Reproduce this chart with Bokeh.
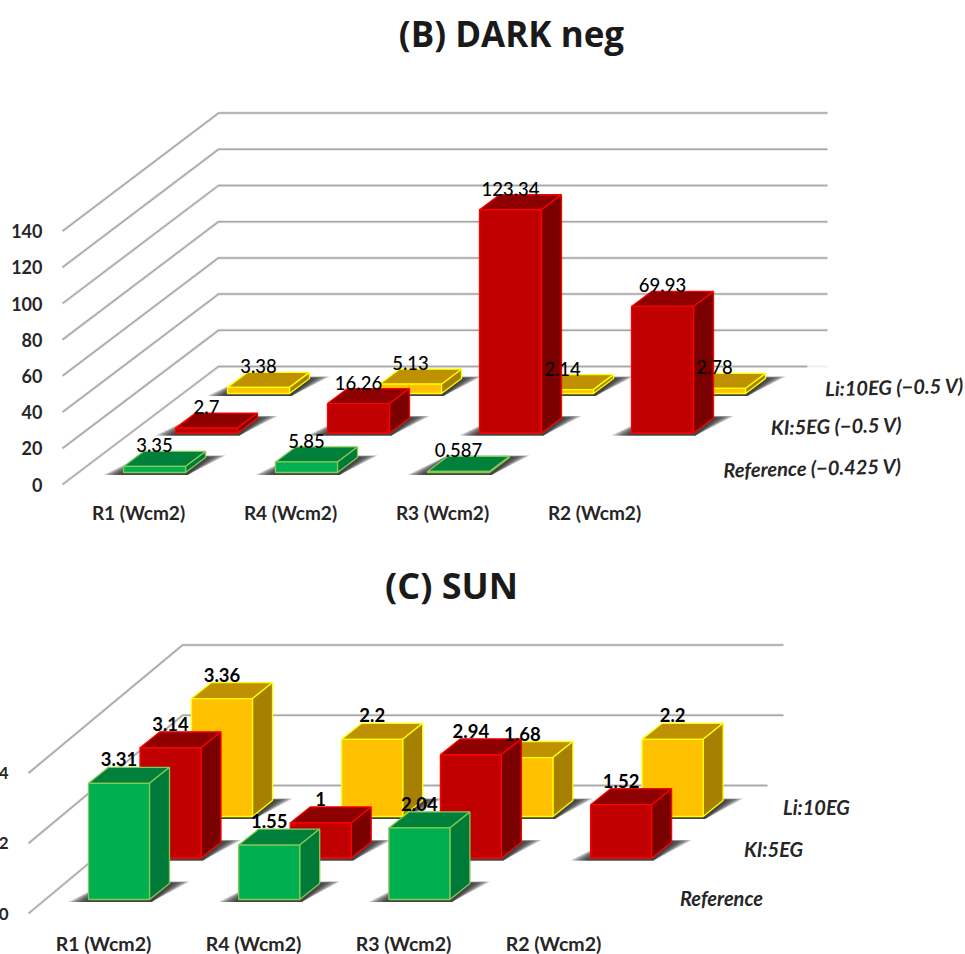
from bokeh.embed import file_html
from bokeh.layouts import column
from bokeh.models import ColumnDataSource, FixedTicker, Range1d
from bokeh.plotting import figure
from bokeh.resources import INLINE

CATEGORIES = ["R1 (Wcm2)", "R4 (Wcm2)", "R3 (Wcm2)", "R2 (Wcm2)"]

# Panel B: dark, negative bias
DARK_REFERENCE = [3.35, 5.85, 0.587, None]
DARK_KI = [2.7, 16.26, 123.34, 69.93]
DARK_LI = [3.38, 5.13, 2.14, 2.78]
DARK_LABELS = ["Reference (\u22120.425 V)", "KI:5EG (\u22120.5 V)", "Li:10EG (\u22120.5 V)"]
DARK_TICKS = [0, 20, 40, 60, 80, 100, 120, 140]

# Panel C: sun
SUN_REFERENCE = [3.31, 1.55, 2.04, None]
SUN_KI = [3.14, 1, 2.94, 1.52]
SUN_LI = [3.36, 2.2, 1.68, 2.2]
SUN_LABELS = ["Reference", "KI:5EG", "Li:10EG"]
SUN_TICKS = [0, 2, 4]

FONT = "Lato"
TITLE_FONT = "Open Sans"

# The page is pulled left so the bottom tick labels sit on the window edge
PAGE_SHIFT = 5
BORDER = 21
FRAME_LEFT = BORDER - PAGE_SHIFT

# front, side, top, edge for each depth row, front row first
PALETTE = [
    ("#00B050", "#007A38", "#00803A", "#85C955"),
    ("#C00000", "#7A0000", "#8C0000", "#FF0000"),
    ("#FFC000", "#A68000", "#BF9000", "#FFFF00"),
]


def draw_panel(height, series, series_labels, ticks, g):
    s = g["scale"]
    y_low = (g["zero_py"] - height) / s
    y_high = g["zero_py"] / s
    p = figure(
        width=965 + PAGE_SHIFT, height=height, output_backend="svg", toolbar_location=None,
        x_range=Range1d(FRAME_LEFT, 965), y_range=Range1d(y_low, y_high),
        min_border_left=BORDER, min_border_right=0,
        min_border_top=0, min_border_bottom=0, outline_line_color=None,
        x_axis_location=None, y_axis_location="left",
    )
    p.xgrid.visible = False
    p.ygrid.visible = False
    p.background_fill_color = "white"
    p.border_fill_color = "white"

    axis = p.yaxis[0]
    axis.ticker = FixedTicker(ticks=ticks)
    axis.axis_line_color = None
    axis.major_tick_line_color = None
    axis.minor_tick_line_color = None
    axis.major_tick_in = 0
    axis.major_tick_out = 0
    axis.major_label_standoff = g["standoff"]
    axis.major_label_text_font = FONT
    axis.major_label_text_font_style = "bold"
    axis.major_label_text_font_size = g["tick_size"]
    axis.major_label_text_color = "#262626"

    # Wall and floor rules
    lift = g["wall_lift"] / s
    xs, ys = [], []
    for t in ticks:
        right = g["floor_right"] if t == 0 else g["wall_right"]
        xs.append([g["wall_left"], g["wall_back"], right])
        ys.append([t, t + lift, t + lift])
    p.multi_line(xs, ys, line_color="#E6E6E6", line_width=3)
    p.multi_line(xs, ys, line_color="#A8A8A8", line_width=1.5)
    if g["floor_stub"]:
        p.line([g["floor_right"], g["wall_right"]], [lift, lift], line_color="#EDEDED", line_width=1.6)

    labels = {"x": [], "y": [], "text": []}
    depth_v = g["side_dy"] / s

    for r in (2, 1, 0):
        front, side, top, edge = PALETTE[r]
        base = (g["zero_py"] - g["row0_py"] + g["row_dy"] * r) / s
        shadow_x, shadow_y, fx, fy, sx, sy, tx, ty = [], [], [], [], [], [], [], []
        for c, v in enumerate(series[r]):
            if v is None:
                continue
            x0 = g["x0"] + g["cat_dx"] * c + g["row_dx"] * r
            x1 = x0 + g["bar_w"]
            xd = g["side_dx"]
            # layered parallelograms give the soft floor shadow
            for k in range(7):
                f = 1 - k / 7
                spread = 20 * f
                low = base - 2.5 / s
                high = base + (g["side_dy"] + 2 * f) / s
                shadow_x.append([x0 - spread, x1 + 2, x1 + xd + spread, x0 + xd])
                shadow_y.append([low, low, high, high])
            fx.append([x0, x1, x1, x0])
            fy.append([base, base, base + v, base + v])
            sx.append([x1, x1 + xd, x1 + xd, x1])
            sy.append([base, base + depth_v, base + v + depth_v, base + v])
            tx.append([x0, x1, x1 + xd, x0 + xd])
            ty.append([base + v, base + v, base + v + depth_v, base + v + depth_v])
            labels["x"].append(x0 + g["bar_w"] / 2)
            labels["y"].append(base + v + g["label_gap"] / s)
            labels["text"].append(f"{v:g}")
        p.patches(shadow_x, shadow_y, fill_color="#2A2A2A", fill_alpha=0.26, line_color=None)
        p.patches(tx, ty, fill_color=top, line_color=edge, line_width=1.3)
        p.patches(sx, sy, fill_color=side, line_color=edge, line_width=1.3)
        p.patches(fx, fy, fill_color=front, line_color=edge, line_width=1.3)

    p.text(
        "x", "y", "text", source=ColumnDataSource(labels), text_align="center",
        text_baseline="middle", text_font={"value": g["label_font"]}, text_font_style=g["label_style"],
        text_font_size=g["label_size"], text_color="#000000",
    )

    # Category names along the front edge
    p.text(
        [g["cat_label_x"] + g["cat_label_dx"] * i for i in range(len(CATEGORIES))],
        [(g["zero_py"] - g["cat_label_py"]) / s] * len(CATEGORIES), CATEGORIES,
        text_align="center", text_baseline="middle", text_font={"value": FONT},
        text_font_style="bold", text_font_size=g["cat_size"], text_color="#262626",
    )

    # Depth-axis names
    p.text(
        g["series_label_x"], [(g["zero_py"] - py) / s for py in g["series_label_py"]], series_labels,
        angle=g["series_label_angle"], text_align="center", text_baseline="middle",
        text_font={"value": FONT}, text_font_style="bold italic",
        text_font_size=g["series_label_size"], text_color="#262626",
    )

    p.text(
        [g["title_x"]], [(g["zero_py"] - g["title_py"]) / s], [g["title"]],
        text_align="center", text_baseline="middle", text_font={"value": TITLE_FONT},
        text_font_style="bold", text_font_size=g["title_size"], text_color="#1A1A1A",
    )
    return p


dark = draw_panel(
    540, [DARK_REFERENCE, DARK_KI, DARK_LI], DARK_LABELS, DARK_TICKS,
    dict(scale=1.81, zero_py=484, standoff=-26, tick_size="18px", wall_left=62, wall_back=218,
         wall_right=827, floor_right=807, floor_stub=True, wall_lift=118, row0_py=472,
         row_dx=52, row_dy=39.5, cat_dx=152, x0=123, bar_w=62, side_dx=20, side_dy=15,
         label_gap=21, label_font="Lato Medium", label_style="normal", label_size="18.5px",
         cat_size="19px", cat_label_x=138, cat_label_dx=152, cat_label_py=512,
         series_label_x=[812, 836, 894], series_label_py=[467, 425, 386],
         series_label_angle=0.024, series_label_size="20px",
         title="(B) DARK neg", title_x=511, title_py=33, title_size="35px"),
)

sun = draw_panel(
    414, [SUN_REFERENCE, SUN_KI, SUN_LI], SUN_LABELS, SUN_TICKS,
    dict(scale=35.1, zero_py=913 - 540, standoff=8, tick_size="17px", wall_left=28, wall_back=182,
         wall_right=783, floor_right=767, floor_stub=False, wall_lift=128, row0_py=899 - 540,
         row_dx=51.5, row_dy=41.5, cat_dx=150.2, x0=88, bar_w=61, side_dx=20, side_dy=16,
         label_gap=24, label_font=FONT, label_style="bold", label_size="18.5px",
         cat_size="19.5px", cat_label_x=103, cat_label_dx=150, cat_label_py=943 - 540,
         series_label_x=[721, 773, 816], series_label_py=[897 - 540, 848 - 540, 806 - 540],
         series_label_angle=0, series_label_size="20px",
         title="(C) SUN", title_x=451, title_py=585 - 540, title_size="36px"),
)

page = column(dark, sun, spacing=0, margin=(0, 0, 0, -PAGE_SHIFT))
open("out.html", "w").write(file_html(page, INLINE))
